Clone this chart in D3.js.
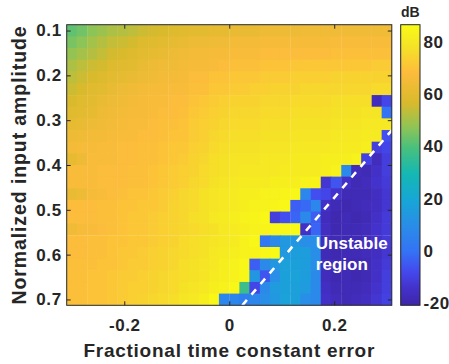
<!DOCTYPE html>
<html>
<head>
<meta charset="utf-8">
<script src="https://d3js.org/d3.v7.min.js"></script>
<style>
  body { margin: 0; background: #fff; }
  svg text { font-family: "Liberation Sans", Arial, Helvetica, sans-serif; font-weight: bold; fill: #262626; }
</style>
</head>
<body>
<div id="chart"></div>
<script>
// fractional time constant error, centre of each column
var xValues = [-0.300, -0.281, -0.261, -0.242, -0.223, -0.203, -0.184, -0.165,
               -0.145, -0.126, -0.106, -0.087, -0.068, -0.048, -0.029, -0.010,
                0.010,  0.029,  0.048,  0.068,  0.087,  0.106,  0.126,  0.145,
                0.165,  0.184,  0.203,  0.223,  0.242,  0.261,  0.281,  0.300];
// normalized input amplitude, centre of each row
var yValues = [0.100, 0.126, 0.152, 0.178, 0.204, 0.230, 0.257, 0.283, 0.309, 0.335, 0.361, 0.387,
               0.413, 0.439, 0.465, 0.491, 0.517, 0.543, 0.570, 0.596, 0.622, 0.648, 0.674, 0.700];
// dB, one list per amplitude row (top to bottom), columns left to right
var dbRows = [
  [42,44,47,49,51,52,53,55,56,57,58,59,60,60,61,61,62,62,62,63,63,63,63,64,64,64,64,64,64,64,64,64],
  [45,47,50,52,54,55,56,58,59,60,61,62,63,63,64,64,65,65,65,66,66,66,66,66,66,66,67,67,67,67,67,67],
  [48,50,52,54,56,57,58,60,61,62,63,64,65,65,66,66,67,67,67,68,68,68,68,68,68,68,69,69,69,69,69,69],
  [51,53,55,56,58,59,60,62,63,64,64,65,66,66,67,68,69,69,69,70,70,70,71,71,71,71,71,71,71,71,72,72],
  [53,55,57,58,60,61,62,63,64,65,65,66,68,68,70,70,71,71,71,72,72,72,73,73,73,73,74,74,74,74,74,74],
  [55,57,59,60,62,63,64,65,66,66,67,67,69,69,71,71,72,72,73,73,74,74,74,75,75,75,75,75,75,75,76,76],
  [57,59,60,62,63,64,65,66,67,67,68,68,70,71,72,73,74,74,74,75,75,75,76,76,76,76,77,77,77,77,-17,-9],
  [59,60,61,63,64,65,66,66,67,68,68,69,71,72,73,74,75,75,75,76,76,76,77,77,77,77,78,78,78,79,79,0],
  [61,62,63,64,65,66,67,67,68,69,69,70,72,73,74,75,76,76,76,77,77,77,78,78,78,78,79,79,79,80,80,80],
  [63,64,65,65,66,67,67,68,68,69,70,70,72,73,75,76,77,77,77,78,78,78,79,79,79,79,80,80,80,81,81,-7],
  [65,66,66,67,67,68,68,69,69,70,71,71,73,74,76,77,78,78,78,79,79,79,80,80,80,80,81,81,81,82,-11,-9],
  [61,63,67,67,67,68,68,69,69,70,71,72,74,75,77,78,79,79,79,80,80,80,81,81,81,82,82,82,83,-10,-17,-11],
  [67,67,67,68,68,68,69,69,70,71,72,73,74,76,77,78,79,80,80,80,80,81,81,81,81,82,83,8,-17,-18,-15,-11],
  [67,67,67,68,68,68,69,69,70,71,72,73,75,76,78,79,80,81,81,81,82,82,82,83,84,-13,-6,-15,-18,-17,-14,-12],
  [62,63,66,67,68,69,70,70,71,72,73,75,76,78,79,80,81,82,82,83,83,84,85,7,-7,-9,-14,-18,-18,-18,-16,-13],
  [68,68,68,69,69,70,70,71,71,72,74,75,76,78,79,80,81,82,83,83,84,85,-4,-2,7,-15,-18,-19,-18,-17,-16,-13],
  [68,68,68,69,69,70,71,71,72,73,74,75,77,78,80,81,82,83,84,85,-11,-7,-3,8,-4,-17,-19,-18,-19,-18,-15,-12],
  [64,66,67,68,69,70,71,71,72,73,74,75,76,77,78,80,81,82,83,84,85,85,86,-15,-3,-16,-19,-18,-18,-17,-14,-12],
  [68,68,69,69,70,70,71,71,72,73,74,76,77,78,79,80,81,83,85,2,8,14,13,10,10,-17,-18,-19,-18,-17,-15,-12],
  [68,68,69,69,70,71,71,72,73,74,75,76,77,78,80,81,82,83,84,85,86,14,16,16,10,-18,-19,-18,-18,-17,-16,-13],
  [69,69,69,70,70,71,72,72,73,74,75,77,78,79,80,82,83,85,-4,8,13,17,17,16,10,-17,-18,-19,-19,-18,-15,-12],
  [69,69,70,70,71,72,72,73,74,75,76,77,78,79,81,82,83,85,13,-6,10,17,18,16,8,-17,-19,-18,-19,-18,-15,-11],
  [69,69,70,70,71,72,73,73,74,75,76,78,79,80,82,83,85,37,-9,8,15,17,17,15,8,-16,-18,-18,-18,-17,-14,-11],
  [69,69,70,70,71,72,73,74,75,76,77,79,80,82,85,7,7,4,7,10,14,18,17,10,8,-15,-17,-18,-17,-16,-13,-10]
];
var xTicks = [-0.2, 0, 0.2];
var yTicks = [0.1, 0.2, 0.3, 0.4, 0.5, 0.6, 0.7];
var cbTicks = [-20, 0, 20, 40, 60, 80];
var colorLimits = [-20.8, 86.5];
// stability boundary drawn as dashed line (x, amplitude)
var boundaryLine = [[0.025, 0.713], [0.31, 0.322]];

// parula-like colormap stops
var parula = [
  [0.00, "#3e26a8"], [0.06, "#4331c9"], [0.12, "#4449ee"], [0.19, "#3472f5"],
  [0.28, "#2a8ce8"], [0.375, "#17a6d6"], [0.47, "#15b8b2"], [0.56, "#48c07e"],
  [0.635, "#8fc456"], [0.72, "#d8ba2c"], [0.83, "#fdbc3c"], [0.92, "#f5e227"],
  [1.00, "#f9fb15"]
];

var width = 449, height = 364;
var plot = {left: 66.7, right: 391.8, top: 24.7, bottom: 305.3};
var cbar = {left: 400.7, right: 420};

var dx = (xValues[xValues.length - 1] - xValues[0]) / (xValues.length - 1);
var dy = (yValues[yValues.length - 1] - yValues[0]) / (yValues.length - 1);

var x = d3.scaleLinear()
    .domain([xValues[0] - dx / 2, xValues[xValues.length - 1] + dx / 2])
    .range([plot.left, plot.right]);
var y = d3.scaleLinear()
    .domain([yValues[0] - dy / 2, yValues[yValues.length - 1] + dy / 2])
    .range([plot.top, plot.bottom]);

var span = colorLimits[1] - colorLimits[0];
var color = d3.scaleLinear()
    .domain(parula.map(s => colorLimits[0] + s[0] * span))
    .range(parula.map(s => s[1]))
    .interpolate(d3.interpolateRgb)
    .clamp(true);

var svg = d3.select("#chart").append("svg")
    .attr("width", width)
    .attr("height", height);

svg.append("clipPath").attr("id", "plotclip")
  .append("rect")
    .attr("x", plot.left).attr("y", plot.top)
    .attr("width", plot.right - plot.left).attr("height", plot.bottom - plot.top);

var cells = [];
dbRows.forEach(function (row, r) {
  row.forEach(function (v, c) {
    cells.push({x: xValues[c], y: yValues[r], v: v});
  });
});

var cw = x(dx) - x(0), ch = y(dy) - y(0);
svg.append("g")
    .attr("clip-path", "url(#plotclip)")
  .selectAll("rect")
  .data(cells)
  .join("rect")
    .attr("x", d => x(d.x - dx / 2))
    .attr("y", d => y(d.y - dy / 2))
    .attr("width", cw + 0.6)
    .attr("height", ch + 0.6)
    .attr("fill", d => color(d.v));

// dashed stability boundary
svg.append("line")
    .attr("clip-path", "url(#plotclip)")
    .attr("x1", x(boundaryLine[0][0])).attr("y1", y(boundaryLine[0][1]))
    .attr("x2", x(boundaryLine[1][0])).attr("y2", y(boundaryLine[1][1]))
    .attr("stroke", "#fff")
    .attr("stroke-width", 2.6)
    .attr("stroke-dasharray", "7,7");

var label = svg.append("text")
    .attr("x", x(0.165))
    .attr("y", y(0.588))
    .style("font-size", "17px")
    .style("fill", "#fff");
label.append("tspan").text("Unstable");
label.append("tspan").attr("x", x(0.165)).attr("dy", 21).text("region");

// axes, ticks pointing inward on all four sides
var fmt = d => d === 0 ? "0" : d3.format(".1f")(d).replace("\u2212", "-");

function styleAxis(g) {
  g.select(".domain").remove();
  g.selectAll(".tick line").attr("stroke", "#262626");
  g.selectAll(".tick text").style("font-size", "17px").style("letter-spacing", "0.6px");
}

svg.append("g")
    .attr("transform", `translate(0,${plot.bottom})`)
    .call(d3.axisBottom(x).tickValues(xTicks).tickSizeInner(-4).tickSizeOuter(0).tickPadding(14).tickFormat(fmt))
    .call(styleAxis);
svg.append("g")
    .attr("transform", `translate(0,${plot.top})`)
    .call(d3.axisTop(x).tickValues(xTicks).tickSizeInner(-4).tickSizeOuter(0).tickFormat(""))
    .call(styleAxis);
svg.append("g")
    .attr("transform", `translate(${plot.left},0)`)
    .call(d3.axisLeft(y).tickValues(yTicks).tickSizeInner(-4).tickSizeOuter(0).tickPadding(5).tickFormat(d3.format(".1f")))
    .call(styleAxis);
svg.append("g")
    .attr("transform", `translate(${plot.right},0)`)
    .call(d3.axisRight(y).tickValues(yTicks).tickSizeInner(-4).tickSizeOuter(0).tickFormat(""))
    .call(styleAxis);

svg.append("rect")
    .attr("x", plot.left).attr("y", plot.top)
    .attr("width", plot.right - plot.left).attr("height", plot.bottom - plot.top)
    .attr("fill", "none").attr("stroke", "#262626").attr("stroke-width", 1);

svg.append("text")
    .attr("x", (plot.left + plot.right) / 2)
    .attr("y", 356.5)
    .attr("text-anchor", "middle")
    .style("font-size", "19px")
    .style("letter-spacing", "0.75px")
    .text("Fractional time constant error");

svg.append("text")
    .attr("transform", `translate(25.5,${(plot.top + plot.bottom) / 2}) rotate(-90)`)
    .attr("text-anchor", "middle")
    .style("font-size", "19.5px")
    .style("letter-spacing", "0.9px")
    .text("Normalized input amplitude");

// colorbar
var grad = svg.append("defs").append("linearGradient")
    .attr("id", "cbgrad")
    .attr("x1", 0).attr("y1", 1).attr("x2", 0).attr("y2", 0);
grad.selectAll("stop")
  .data(parula)
  .join("stop")
    .attr("offset", d => d[0])
    .attr("stop-color", d => d[1]);

var cy = d3.scaleLinear().domain(colorLimits).range([plot.bottom, plot.top]);

svg.append("rect")
    .attr("x", cbar.left).attr("y", plot.top)
    .attr("width", cbar.right - cbar.left).attr("height", plot.bottom - plot.top)
    .attr("fill", "url(#cbgrad)")
    .attr("stroke", "#262626").attr("stroke-width", 1);

svg.append("g")
    .attr("transform", `translate(${cbar.right},0)`)
    .call(d3.axisRight(cy).tickValues(cbTicks).tickSize(0).tickPadding(3.5).tickFormat(d => String(d)))
    .call(styleAxis);

svg.append("text")
    .attr("x", (cbar.left + cbar.right) / 2)
    .attr("y", 16.5)
    .attr("text-anchor", "middle")
    .style("font-size", "14px")
    .text("dB");
</script>
</body>
</html>
